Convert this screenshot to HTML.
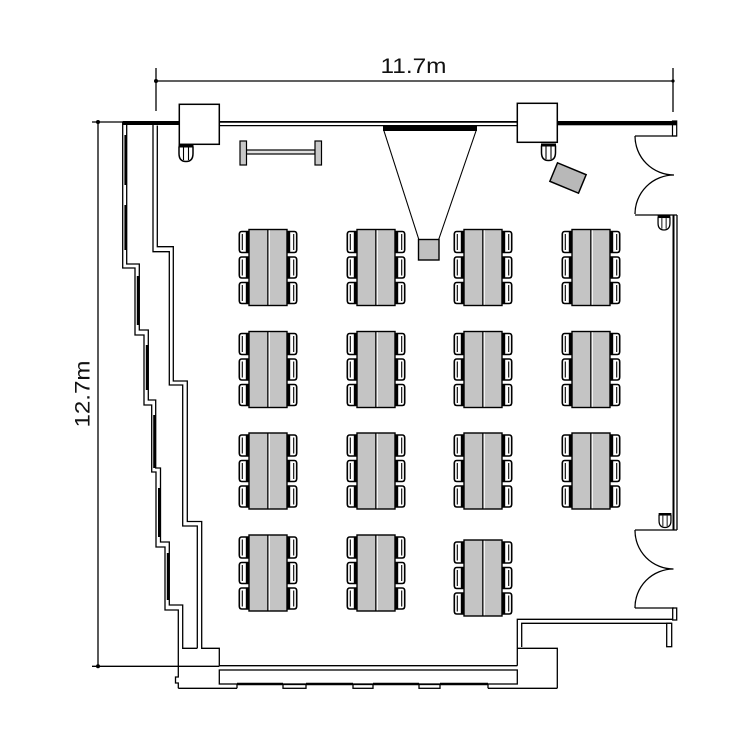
<!DOCTYPE html>
<html>
<head>
<meta charset="utf-8">
<style>
  html,body{margin:0;padding:0;background:#fff;}
  svg{display:block;}
</style>
</head>
<body>
<svg width="750" height="750" viewBox="0 0 750 750" xmlns="http://www.w3.org/2000/svg">
  <defs>
    <g id="cl">
      <path d="M10.5,0 H3.2 Q0.8,0 0.8,3 V18 Q0.8,21 3.2,21 H10.5" fill="#fff" stroke="#000" stroke-width="1.6"/>
      <rect x="7.3" y="0" width="3.2" height="21" fill="#000"/>
      <line x1="3.8" y1="2.5" x2="3.8" y2="18.5" stroke="#000" stroke-width="1.1"/>
    </g>
    <g id="cr">
      <path d="M48.5,0 H55.8 Q58.2,0 58.2,3 V18 Q58.2,21 55.8,21 H48.5" fill="#fff" stroke="#000" stroke-width="1.6"/>
      <rect x="48.5" y="0" width="3.2" height="21" fill="#000"/>
      <line x1="55.2" y1="2.5" x2="55.2" y2="18.5" stroke="#000" stroke-width="1.1"/>
    </g>
    <g id="t">
      <rect x="10.5" y="0" width="38" height="76" fill="#c4c4c4" stroke="#000" stroke-width="1.4"/>
      <line x1="29.3" y1="0" x2="29.3" y2="76" stroke="#000" stroke-width="1.2"/>
      <line x1="30.8" y1="0.8" x2="30.8" y2="75.2" stroke="#fff" stroke-width="1"/>
      <use href="#cl" y="2"/>
      <use href="#cl" y="27.5"/>
      <use href="#cl" y="53"/>
      <use href="#cr" y="2"/>
      <use href="#cr" y="27.5"/>
      <use href="#cr" y="53"/>
    </g>
    <g id="sc">
      <path d="M-7,2 V9 Q-7,17 0,17 Q7,17 7,9 V2" fill="#fff" stroke="#000" stroke-width="1.5"/>
      <rect x="-7.5" y="0" width="15" height="3" fill="#000"/>
      <line x1="-2.5" y1="3" x2="-2.5" y2="15.5" stroke="#000" stroke-width="1.1"/>
      <line x1="2.5" y1="3" x2="2.5" y2="15.5" stroke="#000" stroke-width="1.1"/>
    </g>
  </defs>

  <rect width="750" height="750" fill="#fff"/>

  <g stroke="#000" fill="none" stroke-width="1.3">
    <!-- horizontal dimension -->
    <line x1="156" y1="81" x2="673" y2="81"/>
    <line x1="156" y1="68" x2="156" y2="111"/>
    <line x1="673" y1="68" x2="673" y2="112"/>
    <!-- vertical dimension -->
    <line x1="98" y1="122" x2="98" y2="666.5"/>
    <line x1="92" y1="122" x2="123" y2="122"/>
    <line x1="92" y1="666.3" x2="219.3" y2="666.3"/>
  </g>
  <circle cx="156" cy="81" r="2" fill="#000"/>
  <circle cx="673" cy="81" r="1.6" fill="#000"/>
  <circle cx="98" cy="122" r="2" fill="#000"/>
  <circle cx="98" cy="666.3" r="2" fill="#000"/>

  <text x="413.5" y="73" text-anchor="middle" font-family="Liberation Sans, sans-serif" font-size="21" fill="#111" textLength="66" lengthAdjust="spacingAndGlyphs">11.7m</text>
  <text transform="translate(89.5,394) rotate(-90)" text-anchor="middle" font-family="Liberation Sans, sans-serif" font-size="21" fill="#111" textLength="67" lengthAdjust="spacingAndGlyphs">12.7m</text>

  <!-- top wall -->
  <rect x="122.7" y="121" width="56.6" height="4" fill="#000"/>
  <line x1="219" y1="121.9" x2="517.3" y2="121.9" stroke="#000" stroke-width="1.8"/>
  <line x1="219" y1="125.6" x2="517.3" y2="125.6" stroke="#000" stroke-width="1.2"/>
  <rect x="672.5" y="121" width="4.2" height="15" fill="#fff" stroke="#000" stroke-width="1.2"/>
  <rect x="557" y="121" width="119.7" height="4.3" fill="#000"/>

  <!-- window (stepped) wall -->
  <g fill="#000">
    <rect x="124.4" y="135" width="2.6" height="50"/>
    <rect x="124.4" y="205" width="2.6" height="45"/>
    <rect x="136.8" y="276" width="2.8" height="49"/>
    <rect x="145.8" y="345" width="2.8" height="45"/>
    <rect x="153.2" y="415" width="2.8" height="53"/>
    <rect x="158" y="488" width="2.8" height="49"/>
    <rect x="166.8" y="553" width="2.8" height="47"/>
  </g>
  <g stroke="#000" fill="none" stroke-width="1.3">
    <path d="M122.7,122 V268 H135 V335 H144 V405 H151.7 V472 H156 V547 H165 V610 H178.3 V677 H175.5 V683 H178.3 V688.3"/>
    <path d="M126.7,125 V264 H139.3 V330 H148.3 V400 H155.7 V468 H160.5 V542 H169.3 V605 H182.7 V648.3 H197.3"/>
    <!-- inner room wall -->
    <path d="M153,125 V251.7 H169.3 V385 H182.7 V526 H197.3 V648.3"/>
    <path d="M157.3,125.5 V246.7 H173.3 V381 H187.3 V521.5 H201.7 V648.3 H219.3 V665.7 H517.3"/>
  </g>

  <!-- bottom window -->
  <g stroke="#000" fill="none" stroke-width="1.3">
    <rect x="219.3" y="670" width="298" height="14"/>
    <line x1="178.3" y1="688.3" x2="237" y2="688.3"/>
    <line x1="488" y1="688.3" x2="557.3" y2="688.3"/>
    <line x1="237" y1="684" x2="237" y2="688.3"/>
    <line x1="488" y1="684" x2="488" y2="688.3"/>
    <rect x="283" y="684.5" width="23" height="3.8"/>
    <rect x="353" y="684.5" width="20" height="3.8"/>
    <rect x="419" y="684.5" width="21" height="3.8"/>
  </g>
  <g stroke="#000" stroke-width="2.6">
    <line x1="237" y1="684" x2="283" y2="684"/>
    <line x1="306" y1="684" x2="353" y2="684"/>
    <line x1="373" y1="684" x2="419" y2="684"/>
    <line x1="440" y1="684" x2="488" y2="684"/>
  </g>

  <!-- bottom right walls -->
  <g stroke="#000" fill="none" stroke-width="1.3">
    <path d="M517.3,665.7 V619.3 H676.7"/>
    <path d="M521.7,647 V623.3 H671.7"/>
    <path d="M517.3,648.3 H557.3 V688.3"/>
    <rect x="666.7" y="623.3" width="5" height="23.4" fill="#fff"/>
    <rect x="672.7" y="608" width="4" height="12" fill="#fff"/>
  </g>

  <!-- right wall & doors -->
  <g stroke="#000" fill="none" stroke-width="1.3">
    <line x1="635" y1="136" x2="676.7" y2="136"/>
    <path d="M635,136 A39,39 0 0 0 674,175 A39,39 0 0 0 635,214"/>
    <line x1="635" y1="215" x2="677" y2="215"/>
    <line x1="677" y1="215" x2="677" y2="530"/>
    <line x1="635" y1="530" x2="677" y2="530"/>
    <path d="M635,530 A38.5,38.5 0 0 0 673.5,569 A38.5,38.5 0 0 0 635,608"/>
    <line x1="635" y1="608" x2="674" y2="608"/>
  </g>
  <line x1="673.5" y1="215" x2="673.5" y2="530" stroke="#000" stroke-width="2"/>

  <!-- pillars -->
  <rect x="179.3" y="104.3" width="40" height="40" fill="#fff" stroke="#000" stroke-width="1.5"/>
  <rect x="517.3" y="103.3" width="40" height="39" fill="#fff" stroke="#000" stroke-width="1.5"/>

  <!-- small chairs -->
  <use href="#sc" x="186" y="144.5"/>
  <use href="#sc" x="548.5" y="143.5"/>
  <use href="#sc" transform="translate(664,215.5) scale(0.85)"/>
  <use href="#sc" transform="translate(665,513) scale(0.85)"/>

  <!-- whiteboard / bench -->
  <rect x="246" y="150" width="69" height="4" fill="#e0e0e0" stroke="#000" stroke-width="1.2"/>
  <rect x="240" y="141" width="6.5" height="24" fill="#c8c8c8" stroke="#000" stroke-width="1.2"/>
  <rect x="315" y="141" width="6.5" height="24" fill="#c8c8c8" stroke="#000" stroke-width="1.2"/>

  <!-- screen and projector -->
  <rect x="383" y="125.5" width="94" height="5.5" fill="#000"/>
  <line x1="384" y1="131" x2="419" y2="240" stroke="#000" stroke-width="1.1"/>
  <line x1="476" y1="131" x2="438.5" y2="240" stroke="#000" stroke-width="1.1"/>
  <rect x="418.5" y="239.5" width="20.5" height="20.5" fill="#c0c0c0" stroke="#000" stroke-width="1.4"/>

  <!-- lectern -->
  <rect x="-15.5" y="-10" width="31" height="20" transform="translate(568,178) rotate(22.5)" fill="#b8b8b8" stroke="#000" stroke-width="1.5"/>

  <!-- tables -->
  <use href="#t" x="238.5" y="229.5"/>
  <use href="#t" x="346.5" y="229.5"/>
  <use href="#t" x="453.5" y="229.5"/>
  <use href="#t" x="561.5" y="229.5"/>

  <use href="#t" x="238.5" y="331.5"/>
  <use href="#t" x="346.5" y="331.5"/>
  <use href="#t" x="453.5" y="331.5"/>
  <use href="#t" x="561.5" y="331.5"/>

  <use href="#t" x="238.5" y="433"/>
  <use href="#t" x="346.5" y="433"/>
  <use href="#t" x="453.5" y="433"/>
  <use href="#t" x="561.5" y="433"/>

  <use href="#t" x="238.5" y="535"/>
  <use href="#t" x="346.5" y="535"/>
  <use href="#t" x="453.5" y="540"/>
</svg>
</body>
</html>
